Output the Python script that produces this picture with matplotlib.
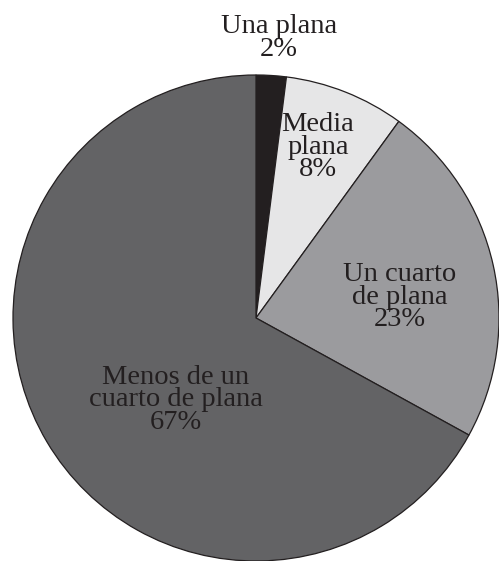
import matplotlib
matplotlib.use("Agg")
import matplotlib.pyplot as plt

# slice data, clockwise from 12 o'clock
labels = ["Una plana", "Media plana", "Un cuarto de plana", "Menos de un cuarto de plana"]
shares = [2, 8, 23, 67]
colors = ["#231f20", "#e6e6e7", "#9b9b9e", "#636365"]

# label texts as printed on the chart
label_texts = ["Una plana\n2%", "Media\nplana\n8%", "Un cuarto\nde plana\n23%",
               "Menos de un\ncuarto de plana\n67%"]
# label centres in pixel coords (y from bottom)
label_pos = [(279, 523), (318, 414), (400, 264), (176, 161)]

W, H = 499, 561
fig = plt.figure(figsize=(W / 100, H / 100), dpi=100)
ax = fig.add_axes([0, 0, 1, 1])

ax.pie(shares, colors=colors, startangle=90, counterclock=False,
       center=(256, 243), radius=243, frame=True,
       wedgeprops=dict(edgecolor="#231f20", linewidth=0.9))
ax.set_xlim(0, W)
ax.set_ylim(0, H)
ax.set_aspect("equal")
ax.axis("off")

for txt, (x, y) in zip(label_texts, label_pos):
    ax.text(x, y, txt, ha="center", va="center", fontsize=20.5,
            family="Liberation Serif", color="#231f20", linespacing=0.88,
            multialignment="center")

fig.savefig("out.png", dpi=100)
